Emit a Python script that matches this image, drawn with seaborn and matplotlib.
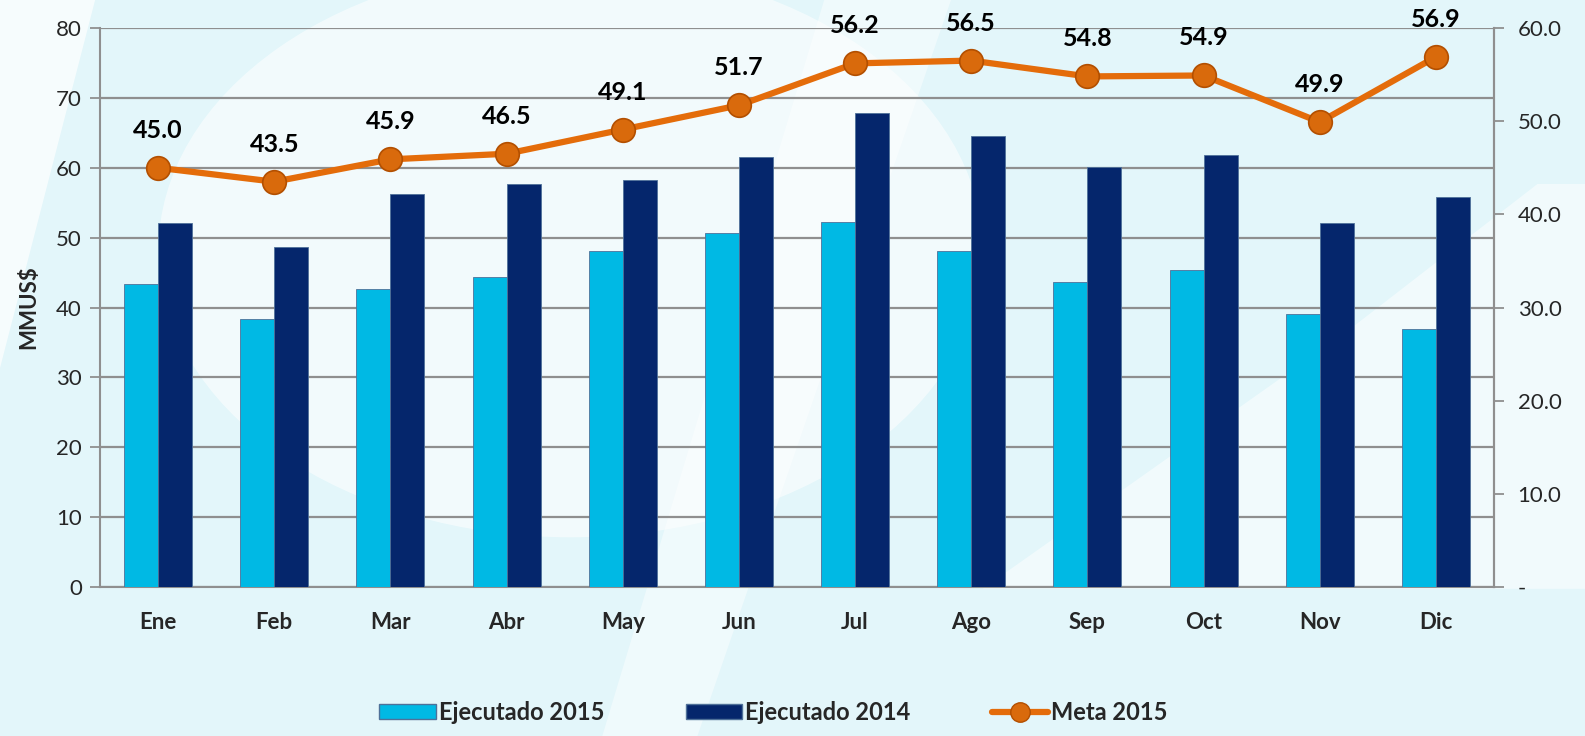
import numpy as np
import pandas as pd
import matplotlib
matplotlib.use("Agg")
import matplotlib.pyplot as plt
import matplotlib.patches as mpatches
from matplotlib.lines import Line2D
import seaborn as sns

months = ["Ene", "Feb", "Mar", "Abr", "May", "Jun", "Jul", "Ago", "Sep", "Oct", "Nov", "Dic"]
ejecutado_2015 = [43.3, 38.3, 42.7, 44.3, 48.1, 50.6, 52.3, 48.1, 43.7, 45.4, 39.1, 36.9]
ejecutado_2014 = [52.1, 48.7, 56.2, 57.7, 58.3, 61.5, 67.9, 64.5, 60.1, 61.8, 52.1, 55.8]
meta_2015 = [45.0, 43.5, 45.9, 46.5, 49.1, 51.7, 56.2, 56.5, 54.8, 54.9, 49.9, 56.9]
left_ticks = [0, 10, 20, 30, 40, 50, 60, 70, 80]
right_ticks = [0, 10, 20, 30, 40, 50, 60]
right_labels = ["-", "10.0", "20.0", "30.0", "40.0", "50.0", "60.0"]
series_names = ["Ejecutado 2015", "Ejecutado 2014"]
line_name = "Meta 2015"

sns.set_theme(style="white")
plt.rcParams["font.family"] = ["Lato", "DejaVu Sans"]

CYAN = "#00b9e4"
NAVY = "#05266c"
ORANGE = "#e46c0a"
GRID = "#8f8f8f"
BG = "#e3f6fa"

df = pd.DataFrame({
    "mes": months * 2,
    "valor": ejecutado_2015 + ejecutado_2014,
    "serie": [series_names[0]] * len(months) + [series_names[1]] * len(months),
})

fig = plt.figure(figsize=(15.85, 7.36), dpi=100, facecolor=BG)

# background decoration axes (behind everything)
bg = fig.add_axes([0, 0, 1, 1], zorder=-10)
bg.set_xlim(0, 1)
bg.set_ylim(0, 1)
bg.axis("off")
bg.add_patch(mpatches.Ellipse((0.36, 0.66), 0.52, 0.78, facecolor="white", alpha=0.55,
                              edgecolor="none"))
bg.add_patch(mpatches.Polygon([[0.0, 1.0], [0.06, 1.0], [0.0, 0.5]], closed=True,
                              facecolor="white", alpha=0.7, edgecolor="none"))
bg.add_patch(mpatches.Polygon([[0.38, 0.0], [0.44, 0.0], [0.60, 1.0], [0.52, 1.0]], closed=True,
                              facecolor="white", alpha=0.45, edgecolor="none"))
bg.add_patch(mpatches.Polygon([[0.62, 0.2], [0.85, 0.55], [0.97, 0.75], [1.0, 0.75], [1.0, 0.2]],
                              closed=True, facecolor="white", alpha=0.5, edgecolor="none"))

ax = fig.add_axes([0.0631, 0.2024, 0.8795, 0.7596], zorder=1)
ax.set_facecolor("none")

sns.barplot(data=df, x="mes", y="valor", hue="serie", order=months, hue_order=series_names,
            palette=[CYAN, NAVY], saturation=1, width=0.585, gap=0, dodge=True, errorbar=None,
            edgecolor="#4f7199", linewidth=0.6, ax=ax, legend=False, zorder=3)

ax.set_xlim(-0.5, len(months) - 0.5)
ax.set_ylim(0, 80)
ax.set_yticks(left_ticks)
ax.set_yticklabels([str(t) for t in left_ticks], fontsize=16)
ax.yaxis.grid(True, color=GRID, linewidth=1.6, zorder=0)
ax.set_axisbelow(True)
ax.set_xticks(range(len(months)))
ax.set_xticklabels(months, fontsize=16, fontweight="bold")
ax.tick_params(axis="x", length=0, pad=18)
ax.set_xticks(np.arange(-0.5, len(months), 1.0), minor=True)
ax.tick_params(axis="x", which="minor", length=7, width=1.3, color=GRID, direction="out")
ax.tick_params(axis="y", length=7, width=1.3, color=GRID, direction="out", pad=6)
ax.set_xlabel("")
ax.set_ylabel("MMUS$", fontsize=16, fontweight="bold", labelpad=12)
for side in ["left", "bottom", "right"]:
    ax.spines[side].set_visible(True)
    ax.spines[side].set_color(GRID)
    ax.spines[side].set_linewidth(1.5)
ax.spines["top"].set_visible(False)

ax2 = ax.twinx()
ax2.set_ylim(0, 60)
x_pos = np.arange(len(months))
sns.lineplot(x=x_pos, y=meta_2015, ax=ax2, color=ORANGE, linewidth=4.5, marker="o",
             markersize=17, markerfacecolor="#d96a0c", markeredgecolor="#b34f00",
             markeredgewidth=1.2, legend=False, zorder=5)
ax2.set_yticks(right_ticks)
ax2.set_yticklabels(right_labels, fontsize=16)
ax2.tick_params(axis="y", length=7, width=1.3, color=GRID, direction="out", pad=10)
for side in ["left", "bottom", "top"]:
    ax2.spines[side].set_visible(False)
ax2.spines["right"].set_color(GRID)
ax2.spines["right"].set_linewidth(1.5)
ax2.grid(False)
ax2.set_xlim(-0.5, len(months) - 0.5)

for i, v in enumerate(meta_2015):
    ax2.annotate(f"{v:.1f}", (i, v), xytext=(0, 27), textcoords="offset points",
                 ha="center", va="center", fontsize=18, fontweight="bold", color="black",
                 annotation_clip=False)

handles = [
    mpatches.Patch(facecolor=CYAN, edgecolor="#4f7199", label=series_names[0]),
    mpatches.Patch(facecolor=NAVY, edgecolor="#4f7199", label=series_names[1]),
    Line2D([0], [0], color=ORANGE, linewidth=4.5, marker="o", markersize=14,
           markerfacecolor="#d96a0c", markeredgecolor="#b34f00", label=line_name),
]
leg = fig.legend(handles=handles, loc="center", bbox_to_anchor=(0.488, 0.032), ncol=3,
                 frameon=False, prop={"size": 17, "weight": "bold"}, handlelength=2.4,
                 handleheight=0.6, handletextpad=0.12, columnspacing=3.45)

fig.savefig("out.png", dpi=100, facecolor=BG)
